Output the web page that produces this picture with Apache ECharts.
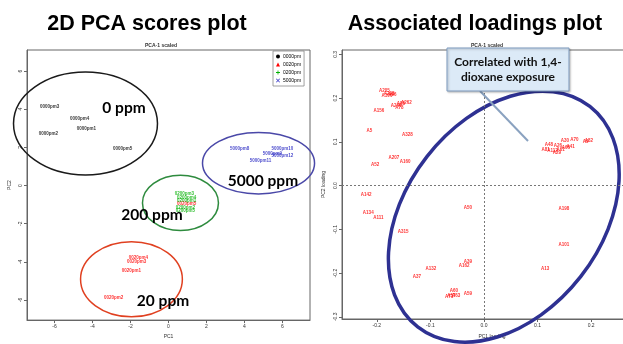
<!DOCTYPE html>
<html><head><meta charset="utf-8">
<script src="https://cdn.jsdelivr.net/npm/echarts@6/dist/echarts.min.js"></script>
<style>html,body{margin:0;padding:0;background:#fff;overflow:hidden;}#c{width:660px;height:344px;}</style>
</head><body><div id="c"></div>
<script>
// ---------- data ----------
const scoreGroups = ['0000pm', '0020pm', '0200pm', '5000pm'];
const groupColors = ['#000000', '#ff0000', '#00b000', '#2020c0'];
const scores0000 = [['0000pm3', -6.26, 4.13], ['0000pm4', -4.68, 3.51], ['0000pm2', -6.32, 2.73], ['0000pm1', -4.32, 2.99], ['0000pm5', -2.42, 1.95]];
const scores0020 = [['0020pm4', -1.58, -3.77], ['0020pm3', -1.68, -3.97], ['0020pm1', -1.95, -4.49], ['0020pm2', -2.89, -5.90], ['0020pm5', 0.95, -0.96]];
const scores0200 = [['0200pm3', 0.84, -0.44], ['0200pm4', 0.95, -0.65], ['0200pm1', 0.95, -0.81], ['0200pm2', 0.89, -1.17], ['0200pm5', 0.89, -1.32]];
const scores5000 = [['5000pm8', 3.74, 1.95], ['5000pm10', 6.0, 1.90], ['5000pm9', 5.47, 1.69], ['5000pm12', 6.0, 1.58], ['5000pm11', 4.84, 1.32]];
const scoreTicksX = [-6, -4, -2, 0, 2, 4, 6];
const scoreTicksY = [-6, -4, -2, 0, 2, 4, 6];
// group ellipses: [cx, cy, rx, ry, rotationDeg]
const scoreEllipses = [[-4.37, 3.25, 3.79, 2.70, 0], [-1.95, -4.91, 2.68, 1.97, 0], [0.63, -0.91, 2.0, 1.45, 0], [4.74, 1.17, 2.95, 1.61, 0]];
const groupLabels = ['0 ppm', '20 ppm', '200 ppm', '5000 ppm'];

const loadings = [
  ['A205', -0.186, 0.216], ['A208', -0.177, 0.211], ['A96', -0.171, 0.207], ['A100', -0.181, 0.205],
  ['A156', -0.196, 0.170], ['A262', -0.145, 0.189], ['A88', -0.155, 0.186], ['A240', -0.164, 0.182], ['A78', -0.158, 0.177],
  ['A5', -0.214, 0.125], ['A328', -0.143, 0.116], ['A207', -0.168, 0.064], ['A160', -0.147, 0.055], ['A52', -0.203, 0.048],
  ['A142', -0.220, -0.020], ['A134', -0.216, -0.061], ['A111', -0.197, -0.073], ['A315', -0.151, -0.105],
  ['A50', -0.030, -0.050], ['A198', 0.149, -0.052], ['A101', 0.149, -0.136], ['A132', -0.099, -0.191], ['A13', 0.114, -0.191],
  ['A39', -0.030, -0.175], ['A162', -0.037, -0.184], ['A37', -0.125, -0.209], ['A60', -0.056, -0.241],
  ['A57', -0.061, -0.252], ['A63', -0.052, -0.252], ['A71', -0.065, -0.255], ['A59', -0.030, -0.248],
  ['A30', 0.151, 0.102], ['A70', 0.169, 0.105], ['A9', 0.190, 0.100], ['A82', 0.196, 0.102], ['A26', 0.138, 0.091],
  ['A48', 0.121, 0.093], ['A81', 0.115, 0.082], ['A112', 0.128, 0.080], ['A61', 0.143, 0.082], ['A66', 0.153, 0.086],
  ['A29', 0.136, 0.075], ['A41', 0.162, 0.089]
];
const loadTicksX = [-0.2, -0.1, 0.0, 0.1, 0.2];
const loadTicksY = [-0.3, -0.2, -0.1, 0.0, 0.1, 0.2, 0.3];
const loadEllipse = [[0.037, -0.071, 0.261, 0.223, 52]];

// ---------- chart ----------
const chart = echarts.init(document.getElementById('c'), null, {renderer: 'canvas'});
const scoreSets = [scores0000, scores0020, scores0200, scores5000];
const ellipseColors = ['#1a1a1a', '#e04020', '#2e8b3e', '#4a48a8'];

function ellipseRenderer(color, width) {
  return function (params, api) {
    const c = api.coord([api.value(0), api.value(1)]);
    const s = api.size([api.value(2), api.value(3)]);
    return {
      type: 'ellipse',
      shape: {cx: 0, cy: 0, rx: s[0], ry: s[1]},
      x: c[0], y: c[1],
      rotation: api.value(4) * Math.PI / 180,
      style: {fill: null, stroke: typeof color === 'function' ? color(params.dataIndex) : color, lineWidth: width}
    };
  };
}

function axisCommon(ticks, fmt, rot) {
  return {
    axisLine: {show: true, onZero: false, lineStyle: {color: '#666', width: 1}},
    axisTick: {show: true, length: 3, lineStyle: {color: '#666'}, customValues: ticks},
    axisLabel: {fontSize: 5, color: '#333', margin: 4, customValues: ticks, formatter: fmt, rotate: rot || 0},
    splitLine: {show: false}
  };
}
const fmt0 = v => String(v);
const fmt1 = v => v.toFixed(1);

const series = [];
scoreSets.forEach((set, i) => {
  series.push({
    type: 'scatter', name: scoreGroups[i], xAxisIndex: 0, yAxisIndex: 0,
    symbolSize: 1, itemStyle: {color: 'rgba(0,0,0,0)'},
    label: {show: true, position: 'inside', formatter: p => p.name, fontSize: 4.5, fontWeight: 'bold', color: groupColors[i], fontFamily: 'Liberation Sans'},
    data: set.map(d => ({name: d[0], value: [d[1], d[2]]})),
    z: 3
  });
});

series.push({
  type: 'custom', xAxisIndex: 0, yAxisIndex: 0, clip: false,
  renderItem: ellipseRenderer(i => ellipseColors[i], 1.5),
  data: scoreEllipses, z: 2, silent: true
});
series.push({
  type: 'scatter', xAxisIndex: 1, yAxisIndex: 1, symbolSize: 1,
  itemStyle: {color: 'rgba(0,0,0,0)'},
  label: {show: true, position: 'inside', formatter: p => p.name, fontSize: 4.5, fontWeight: 'bold', color: '#ff0000', fontFamily: 'Liberation Sans'},
  data: loadings.map(d => ({name: d[0], value: [d[1], d[2]]})),
  markLine: {
    silent: true, symbol: 'none', label: {show: false},
    lineStyle: {color: '#777', type: [2, 2], width: 1},
    data: [{xAxis: 0}, {yAxis: 0}]
  },
  z: 3
});
series.push({
  type: 'custom', xAxisIndex: 1, yAxisIndex: 1, clip: false,
  renderItem: ellipseRenderer('#2e3192', 3.5),
  data: loadEllipse, z: 4, silent: true
});

const ppmPos = [[124, 108], [163, 301], [152, 215], [263, 181]];

chart.setOption({
  animation: false,
  backgroundColor: '#fff',
  title: [
    {text: '2D PCA scores plot', left: 142, top: 8, textAlign: 'center', textStyle: {fontFamily: 'Liberation Sans', fontWeight: 'bold', fontSize: 21.5, color: '#000'}},
    {text: 'Associated loadings plot', left: 470, top: 8, textAlign: 'center', textStyle: {fontFamily: 'Liberation Sans', fontWeight: 'bold', fontSize: 21.5, color: '#000'}},
    {text: 'PCA-1 scaled', left: 156, top: 38, textAlign: 'center', textStyle: {fontFamily: 'Liberation Sans', fontWeight: 'bold', fontSize: 5, color: '#333'}},
    {text: 'PCA-1 scaled', left: 482, top: 38, textAlign: 'center', textStyle: {fontFamily: 'Liberation Sans', fontWeight: 'bold', fontSize: 5, color: '#333'}}
  ],
  legend: {
    orient: 'vertical', left: 273, top: 51, padding: [3, 3], itemGap: 3,
    itemWidth: 4, itemHeight: 4, borderColor: '#888', borderWidth: 0.8, backgroundColor: '#fff',
    textStyle: {fontSize: 5, color: '#000', fontFamily: 'Liberation Sans', padding: [0, 0, 0, -2]},
    data: [
      {name: scoreGroups[0], icon: 'circle', itemStyle: {color: groupColors[0], opacity: 1}},
      {name: scoreGroups[1], icon: 'triangle', itemStyle: {color: groupColors[1], opacity: 1}},
      {name: scoreGroups[2], icon: 'path://M4,0H6V4H10V6H6V10H4V6H0V4H4Z', itemStyle: {color: groupColors[2], opacity: 1}},
      {name: scoreGroups[3], icon: 'path://M1,0L5,4L9,0L10,1L6,5L10,9L9,10L5,6L1,10L0,9L4,5L0,1Z', itemStyle: {color: groupColors[3], opacity: 1}}
    ],
    selectedMode: false
  },
  grid: [
    {left: 27, top: 50, width: 283, height: 272, show: true, borderColor: '#666', borderWidth: 1, backgroundColor: 'transparent'},
    {left: 342, top: 50, width: 300, height: 270, show: true, borderColor: '#666', borderWidth: 1, backgroundColor: 'transparent'}
  ],
  xAxis: [
    Object.assign({type: 'value', gridIndex: 0, min: -7.45, max: 7.45, name: 'PC1', nameLocation: 'middle', nameGap: 13, nameTextStyle: {fontSize: 5, color: '#333'}}, axisCommon(scoreTicksX, fmt0)),
    Object.assign({type: 'value', gridIndex: 1, min: -0.265, max: 0.295, name: 'PC1 loading', nameLocation: 'middle', nameGap: 15, nameTextStyle: {fontSize: 5, color: '#333'}}, axisCommon(loadTicksX, fmt1))
  ],
  yAxis: [
    Object.assign({type: 'value', gridIndex: 0, min: -7.05, max: 7.1, name: 'PC2', nameLocation: 'middle', nameGap: 15, nameTextStyle: {fontSize: 5, color: '#333'}}, axisCommon(scoreTicksY, fmt0, 90)),
    Object.assign({type: 'value', gridIndex: 1, min: -0.305, max: 0.31, name: 'PC2 loading', nameLocation: 'middle', nameGap: 16, nameTextStyle: {fontSize: 5, color: '#333'}}, axisCommon(loadTicksY, fmt1, 90))
  ],
  graphic: [
    ...groupLabels.map((t, i) => ({
      type: 'text', x: ppmPos[i][0], y: ppmPos[i][1], z: 10,
      style: {text: t, fontFamily: 'Lato', fontWeight: 'bold', fontSize: 15.5, fill: '#000', align: 'center', verticalAlign: 'middle'}
    })),
    {type: 'line', z: 9, shape: {x1: 480, y1: 91, x2: 528, y2: 141}, style: {stroke: '#8aa2c0', lineWidth: 2}},
    {type: 'rect', z: 10, shape: {x: 447, y: 48, width: 122, height: 43}, style: {fill: '#dceaf7', stroke: '#7f9cc0', lineWidth: 1, shadowBlur: 2, shadowColor: 'rgba(0,0,0,0.25)', shadowOffsetX: 1, shadowOffsetY: 1}},
    {type: 'text', z: 11, x: 508, y: 70, style: {text: 'Correlated with 1,4-\ndioxane exposure', fontFamily: 'Lato', fontWeight: 'bold', fontSize: 12, lineHeight: 15, fill: '#111', align: 'center', verticalAlign: 'middle'}}
  ],
  series: series
});
</script></body></html>
